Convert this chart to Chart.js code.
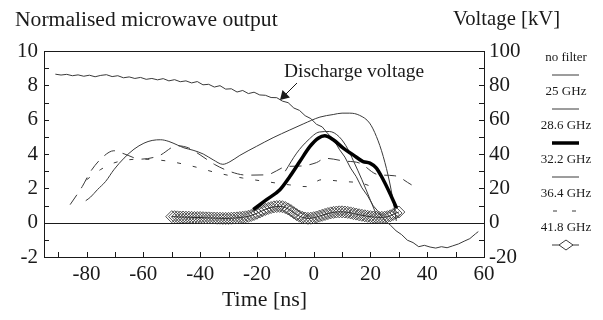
<!DOCTYPE html>
<html>
<head>
<meta charset="utf-8">
<script src="https://cdn.jsdelivr.net/npm/chart.js@4.4.1/dist/chart.umd.min.js"></script>
<style>
  html, body { margin: 0; padding: 0; background: #fff; }
  #wrap { position: relative; width: 603px; height: 320px; }
</style>
</head>
<body>
<div id="wrap"><canvas id="chart" width="603" height="320"></canvas></div>
<script>
// values (time in ns)
const voltageTime = [-91, -89, -87, -85, -83, -81, -79, -77, -75, -73, -71, -69, -67, -65, -63, -61, -59, -57, -55, -53,
  -51, -49, -47, -45, -43, -41, -39, -37, -35, -33, -31, -29, -27, -25, -23, -21, -19, -17, -15, -13,
  -11, -9, -7, -5, -3, -1, 1, 3, 5, 7, 9, 11, 13, 15, 17, 19, 21, 23, 25, 27,
  29, 31, 33, 35, 37, 39, 41, 43, 45, 47, 49, 51, 53, 55, 57, 58];
const voltageKV = [86.5, 86.0, 86.4, 85.6, 86.1, 85.3, 85.9, 85.0, 85.8, 86.2, 85.1, 85.6, 84.4, 84.9, 84.0, 84.6, 83.5, 84.0, 83.2, 83.9,
  82.6, 83.3, 82.1, 82.6, 81.4, 82.2, 80.3, 80.6, 79.0, 79.8, 77.8, 78.0, 76.1, 77.0, 75.2, 76.0, 74.4, 74.2, 72.9, 72.8,
  70.8, 69.9, 66.8, 65.4, 62.3, 60.6, 57.3, 55.8, 51.8, 48.6, 42.8, 38.2, 31.8, 26.8, 20.3, 15.6, 9.8, 6.0, 1.3, -1.4,
  -4.7, -7.0, -10.2, -11.6, -14.0, -13.2, -14.2, -14.8, -14.0, -14.6, -13.5, -12.4, -10.8, -9.3, -6.5, -5.2];

const noFilterTime = [-80.3, -78.6, -76.2, -73.3, -70.4, -66.8, -63.3, -59.8, -56.9, -53.9, -51, -48.1, -45.7, -42.5, -38.9, -35.4, -32,
  -29.5, -26, -20.2, -14.3, -8.4, -3.7, 2.2, 6.9, 10, 12.7, 16.2, 19.7, 22.1, 24.5, 26.8, 28.5, 29.1];
const noFilterOut = [1.28, 1.49, 1.92, 2.4, 3.08, 3.76, 4.28, 4.63, 4.79, 4.83, 4.73, 4.53, 4.36, 4.22, 4.0, 3.66, 3.4,
  3.55, 3.92, 4.44, 4.95, 5.4, 5.75, 6.15, 6.3, 6.38, 6.38, 6.25, 5.8, 5.02, 3.86, 2.31, 0.76, 0.1];

const f25Time = [-85.8, -81.5, -78.6, -74.1, -70.4, -66.8, -61, -54.5, -48.1, -44, -40, -35, -29.5, -23.6, -16.6, -9.5,
  -4.5, 1, 4, 7, 10.3, 16.2, 22.6, 28.6, 34.5];
const f25Out = [1.05, 2.11, 2.98, 3.85, 4.19, 4.01, 3.7, 3.9, 4.48, 4.35, 3.95, 3.4, 2.98, 2.77, 2.79, 3.27,
  3.3, 3.5, 3.75, 3.7, 3.6, 3.47, 2.8, 2.73, 2.2];

const f286Time = [-21.3, -16.6, -11.9, -8.4, -4.9, -1.3, 1.6, 3.9, 6.9, 10.4, 13.9, 17.4, 19.8, 22.1, 24.5, 26.8, 29.2];
const f286Out = [0.76, 1.34, 1.92, 2.69, 3.56, 4.44, 4.92, 5.06, 4.83, 4.34, 3.95, 3.56, 3.47, 3.18, 2.5, 1.73, 0.85];

const f322Time = [-10, -6, -2, 2, 5.5, 9, 12, 14, 17, 20, 22];
const f322Out = [3.0, 4.05, 4.8, 5.28, 5.31, 5.0, 4.3, 3.6, 2.5, 1.3, 0.5];

const f364Time = [-80, -75, -70, -61, -52, -43, -34, -25, -17, -8.4, -2.5, 2.7, 10.3, 16.8, 22];
const f364Out = [2.5, 3.1, 3.5, 3.7, 3.6, 3.3, 2.9, 2.6, 2.4, 2.2, 2.1, 2.5, 2.4, 2.3, 2.0];

const f418Time = [-50, -49, -48, -47, -46, -45, -44, -43, -42, -41, -40, -39, -38, -37, -36, -35, -34, -33, -32, -31,
  -30, -29, -28, -27, -26, -25, -24, -23, -22, -21, -20, -19, -18, -17, -16, -15, -14, -13, -12, -11,
  -10, -9, -8, -7, -6, -5, -4, -3, -2, -1, 0, 1, 2, 3, 4, 5, 6, 7, 8, 9,
  10, 11, 12, 13, 14, 15, 16, 17, 18, 19, 20, 21, 22, 23, 24, 25, 26, 27, 28, 29, 30];
const f418Out = [0.35, 0.35, 0.34, 0.33, 0.33, 0.32, 0.32, 0.31, 0.3, 0.3, 0.3, 0.29, 0.28, 0.28, 0.27, 0.27, 0.26, 0.26, 0.25, 0.25,
  0.25, 0.26, 0.27, 0.28, 0.3, 0.32, 0.34, 0.37, 0.42, 0.48, 0.55, 0.62, 0.7, 0.77, 0.83, 0.88, 0.92, 0.94, 0.95, 0.93,
  0.88, 0.8, 0.7, 0.58, 0.47, 0.38, 0.31, 0.27, 0.25, 0.26, 0.29, 0.33, 0.38, 0.43, 0.48, 0.53, 0.57, 0.6, 0.62, 0.63,
  0.63, 0.62, 0.6, 0.57, 0.53, 0.5, 0.46, 0.43, 0.4, 0.37, 0.35, 0.33, 0.32, 0.31, 0.31, 0.32, 0.35, 0.4, 0.48, 0.56, 0.62];

const outputTicks = [-2, 0, 2, 4, 6, 8, 10];
const voltageTicks = [-20, 0, 20, 40, 60, 80, 100];
const timeTicks = [-80, -60, -40, -20, 0, 20, 40, 60];
const legendLabels = ["no filter", "25 GHz", "28.6 GHz", "32.2 GHz", "36.4 GHz", "41.8 GHz"];

const SERIF = '"Liberation Serif", "Times New Roman", serif';
const INK = '#1a1a1a';

function pts(xs, ys) {
  return xs.map((x, i) => ({ x: x, y: ys[i] }));
}

function thin(label, xs, ys, extra) {
  return Object.assign({
    label: label,
    data: pts(xs, ys),
    borderColor: '#3a3a3a',
    borderWidth: 1,
    pointRadius: 0,
    tension: 0.4,
    cubicInterpolationMode: 'monotone',
    fill: false
  }, extra || {});
}

function fitText(ctx, text, left, right, cy) {
  ctx.font = '100px ' + SERIF;
  const size = 100 * (right - left) / ctx.measureText(text).width;
  ctx.font = size.toFixed(1) + 'px ' + SERIF;
  ctx.textAlign = 'left';
  ctx.textBaseline = 'middle';
  ctx.fillText(text, left, cy);
}

const decorations = {
  id: 'decorations',
  beforeDatasetsDraw(chart) {
    const { ctx, chartArea: a, scales } = chart;
    const y0 = Math.round(scales.y.getPixelForValue(0)) + 0.5;
    ctx.save();
    ctx.strokeStyle = INK;
    ctx.lineWidth = 1;
    ctx.beginPath();
    ctx.moveTo(a.left, y0);
    ctx.lineTo(a.right, y0);
    ctx.stroke();
    ctx.restore();
  },
  afterDraw(chart) {
    const { ctx, chartArea: a, scales } = chart;
    const { x, y, y2 } = scales;
    ctx.save();
    ctx.strokeStyle = INK;
    ctx.fillStyle = INK;
    ctx.lineWidth = 1;

    // frame
    ctx.strokeRect(Math.round(a.left) + 0.5, Math.round(a.top) + 0.5,
      Math.round(a.right - a.left), Math.round(a.bottom - a.top));

    // inward tick marks
    ctx.beginPath();
    for (let v = -2; v <= 10; v++) {
      const py = Math.round(y.getPixelForValue(v)) + 0.5;
      ctx.moveTo(a.left, py); ctx.lineTo(a.left + 5, py);
    }
    for (let v = -20; v <= 100; v += 10) {
      const py = Math.round(y2.getPixelForValue(v)) + 0.5;
      ctx.moveTo(a.right, py); ctx.lineTo(a.right - 5, py);
    }
    for (let t = -90; t <= 60; t += 10) {
      const px = Math.round(x.getPixelForValue(t)) + 0.5;
      ctx.moveTo(px, a.bottom); ctx.lineTo(px, a.bottom - 5);
    }
    ctx.stroke();

    // tick labels
    ctx.font = '21px ' + SERIF;
    ctx.textBaseline = 'middle';
    ctx.textAlign = 'right';
    outputTicks.forEach(v => ctx.fillText(String(v), a.left - 6, y.getPixelForValue(v)));
    ctx.textAlign = 'left';
    voltageTicks.forEach(v => ctx.fillText(String(v), a.right + 5, y2.getPixelForValue(v)));
    ctx.textAlign = 'center';
    timeTicks.forEach(t => ctx.fillText(String(t), x.getPixelForValue(t), 274));

    // axis titles and annotation
    fitText(ctx, 'Normalised microwave output', 15, 278, 20);
    fitText(ctx, 'Voltage [kV]', 453, 560, 20);
    fitText(ctx, 'Time [ns]', 222, 307, 300);
    fitText(ctx, 'Discharge voltage', 284, 424, 72);

    // arrow to the voltage trace
    const tipX = 280, tipY = 100;
    ctx.beginPath();
    ctx.moveTo(297, 83); ctx.lineTo(tipX + 4, tipY - 4);
    ctx.stroke();
    ctx.beginPath();
    ctx.moveTo(tipX, tipY);
    ctx.lineTo(tipX + 2.5, tipY - 10);
    ctx.lineTo(tipX + 10, tipY - 2.5);
    ctx.closePath();
    ctx.fill();

    // legend: label with its line sample underneath
    const cx = 566, x1 = 552, x2 = 579;
    ctx.font = '13px ' + SERIF;
    ctx.textAlign = 'center';
    legendLabels.forEach((lab, i) => {
      const ly = 58 + i * 34;
      ctx.fillText(lab, cx, ly);
      const sy = ly + 17;
      ctx.beginPath();
      ctx.strokeStyle = '#3a3a3a';
      ctx.lineWidth = 1;
      if (i === 2) {
        ctx.lineWidth = 3.5;
        ctx.strokeStyle = '#000';
        ctx.moveTo(x1, sy); ctx.lineTo(x2, sy);
      } else if (i === 4) {
        ctx.moveTo(553, sy); ctx.lineTo(557, sy);
        ctx.moveTo(572, sy); ctx.lineTo(576, sy);
      } else if (i === 5) {
        ctx.moveTo(x1, sy); ctx.lineTo(x2, sy);
        ctx.stroke();
        ctx.beginPath();
        ctx.fillStyle = '#fff';
        ctx.moveTo(cx, sy - 5); ctx.lineTo(cx + 7, sy); ctx.lineTo(cx, sy + 5); ctx.lineTo(cx - 7, sy);
        ctx.closePath();
        ctx.fill();
      } else {
        ctx.moveTo(x1, sy); ctx.lineTo(x2, sy);
      }
      ctx.stroke();
      ctx.fillStyle = INK;
    });
    ctx.restore();
  }
};

new Chart(document.getElementById('chart'), {
  type: 'line',
  data: {
    datasets: [
      thin('28.6 GHz', f286Time, f286Out, { borderColor: '#000', borderWidth: 3.5, order: 0 }),
      thin('no filter', noFilterTime, noFilterOut, { order: 2 }),
      thin('25 GHz', f25Time, f25Out, { borderDash: [12, 8], order: 3 }),
      thin('32.2 GHz', f322Time, f322Out, { order: 4 }),
      thin('36.4 GHz', f364Time, f364Out, { borderDash: [4, 12], order: 5 }),
      {
        label: '41.8 GHz',
        data: pts(f418Time, f418Out),
        borderColor: '#222',
        borderWidth: 1,
        tension: 0.3,
        pointStyle: 'rectRot',
        pointRadius: 6,
        pointBorderWidth: 0.9,
        pointBorderColor: '#3c3c3c',
        pointBackgroundColor: 'rgba(255,255,255,0)',
        order: 1
      },
      thin('Discharge voltage', voltageTime, voltageKV, { yAxisID: 'y2', tension: 0, cubicInterpolationMode: 'default', order: 6 })
    ]
  },
  options: {
    responsive: false,
    animation: false,
    devicePixelRatio: 1,
    layout: { padding: { left: 44, right: 119, top: 51, bottom: 63 } },
    plugins: { legend: { display: false }, tooltip: { enabled: false } },
    scales: {
      x: { type: 'linear', min: -95, max: 60, display: false },
      y: { type: 'linear', min: -2, max: 10, display: false },
      y2: { type: 'linear', min: -20, max: 100, display: false, position: 'right' }
    }
  },
  plugins: [decorations]
});
</script>
</body>
</html>
